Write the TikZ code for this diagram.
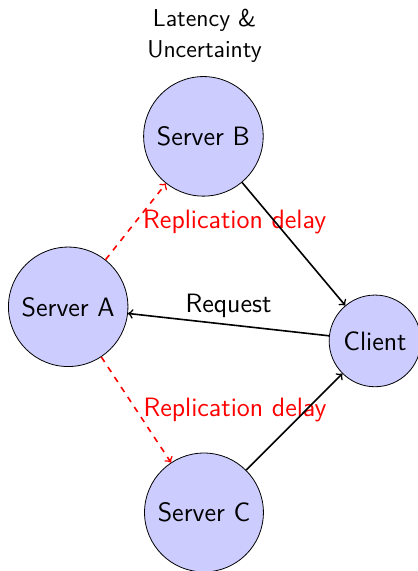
\documentclass[tikz,border=0pt]{standalone}
\usepackage{xcolor}
\usetikzlibrary{shapes}

\newcommand{\labelfont}{\sffamily\fontsize{13.3}{16}\selectfont}
\tikzset{
    server/.style={circle, draw, fill=blue!20, inner sep=5pt, font=\labelfont},
    link/.style={->, black, thick},
    repl/.style={->, red, dashed, thick}
}

\begin{document}
\begin{tikzpicture}
    \useasboundingbox (-1.2,-4.65) rectangle (6.15,5.4);
    \node[align=center, font=\sffamily\fontsize{12.2}{15.5}\selectfont] (title) at (2.4,4.77) {Latency \&\\Uncertainty};
    \node[server] (A) at (0,0) {Server A};
    \node[server] (B) at (2.38,3) {Server B};
    \node[server] (C) at (2.39,-3.62) {Server C};
    \node[server] (client) at (5.4,-0.6) {Client};
    \draw [repl] (A) -- node[right, font=\labelfont] {Replication delay} (B);
    \draw [repl] (A) -- node[right, font=\labelfont] {Replication delay} (C);
    \draw [link] (B) -- (client);
    \draw [link] (C) -- (client);
    \draw [link] (client) -- node[above, font=\labelfont] {Request} (A);
\end{tikzpicture}
\end{document}
